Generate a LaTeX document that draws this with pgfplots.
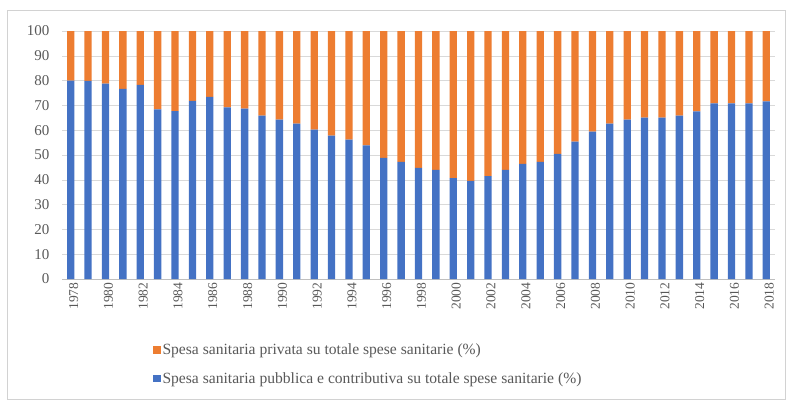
\documentclass[border=0pt]{standalone}
\usepackage{pgfplots}
\pgfplotsset{compat=1.18}
\usepackage{fontspec}
\setmainfont{Liberation Serif}
\definecolor{cblue}{HTML}{4472C4}
\definecolor{corange}{HTML}{ED7D31}
\definecolor{ctext}{HTML}{595959}
\begin{document}
\begin{tikzpicture}[x=1pt,y=1pt]
\path[use as bounding box] (0,0) rectangle (786,400);
\draw[gray!35, line width=0.8pt] (7,1) rectangle (785.5,390);
\begin{axis}[
  at={(62pt,121pt)}, anchor=south west,
  scale only axis, width=713pt, height=248pt,
  ybar stacked, bar width=7.3pt,
  xmin=1977.5, xmax=2018.5, ymin=0, ymax=100,
  xtick={1978,1980,...,2018},
  ytick={0,10,...,100},
  x tick label style={rotate=90, anchor=east, yshift=-3pt, font=\fontsize{13.5}{15}\selectfont, text=ctext},
  y tick label style={xshift=-9pt, font=\fontsize{15}{17}\selectfont, text=ctext},
  /pgf/number format/assume math mode=true,
  /pgf/number format/1000 sep={},
  major tick length=0pt,
  ymajorgrids, grid style={gray!30, line width=0.6pt},
  axis lines*=left,
  y axis line style={draw=none},
  x axis line style={gray!50, line width=0.8pt},
  legend style={at={(0.123,-0.245)}, anchor=north west, draw=none, font=\fontsize{15.6}{17}\selectfont, text=ctext, row sep=12pt, legend cell align=left},
  legend image code/.code={\fill[#1] (0pt,-3.8pt) rectangle (7.6pt,3.8pt);},
  reverse legend,
]
\addplot[fill=cblue, draw=none] coordinates {
(1978,80.0) (1979,79.9) (1980,78.8) (1981,76.7) (1982,78.3) (1983,68.4) (1984,67.7) (1985,71.8) (1986,73.4) (1987,69.2)
(1988,68.7) (1989,65.9) (1990,64.3) (1991,62.7) (1992,60.2) (1993,57.8) (1994,56.2) (1995,53.9) (1996,48.8) (1997,47.2)
(1998,44.8) (1999,44.0) (2000,40.7) (2001,39.6) (2002,41.5) (2003,44.0) (2004,46.4) (2005,47.2) (2006,50.5) (2007,55.4)
(2008,59.4) (2009,62.7) (2010,64.3) (2011,65.1) (2012,65.1) (2013,65.9) (2014,67.6) (2015,70.8) (2016,70.8) (2017,70.8)
(2018,71.6)};
\addlegendentry{Spesa sanitaria pubblica e contributiva su totale spese sanitarie (\%)}
\addplot[fill=corange, draw=none] coordinates {
(1978,20.0) (1979,20.1) (1980,21.2) (1981,23.3) (1982,21.7) (1983,31.6) (1984,32.3) (1985,28.2) (1986,26.6) (1987,30.8)
(1988,31.3) (1989,34.1) (1990,35.7) (1991,37.3) (1992,39.8) (1993,42.2) (1994,43.8) (1995,46.1) (1996,51.2) (1997,52.8)
(1998,55.2) (1999,56.0) (2000,59.3) (2001,60.4) (2002,58.5) (2003,56.0) (2004,53.6) (2005,52.8) (2006,49.5) (2007,44.6)
(2008,40.6) (2009,37.3) (2010,35.7) (2011,34.9) (2012,34.9) (2013,34.1) (2014,32.4) (2015,29.2) (2016,29.2) (2017,29.2)
(2018,28.4)};
\addlegendentry{Spesa sanitaria privata su totale spese sanitarie (\%)}
\end{axis}
\end{tikzpicture}
\end{document}
